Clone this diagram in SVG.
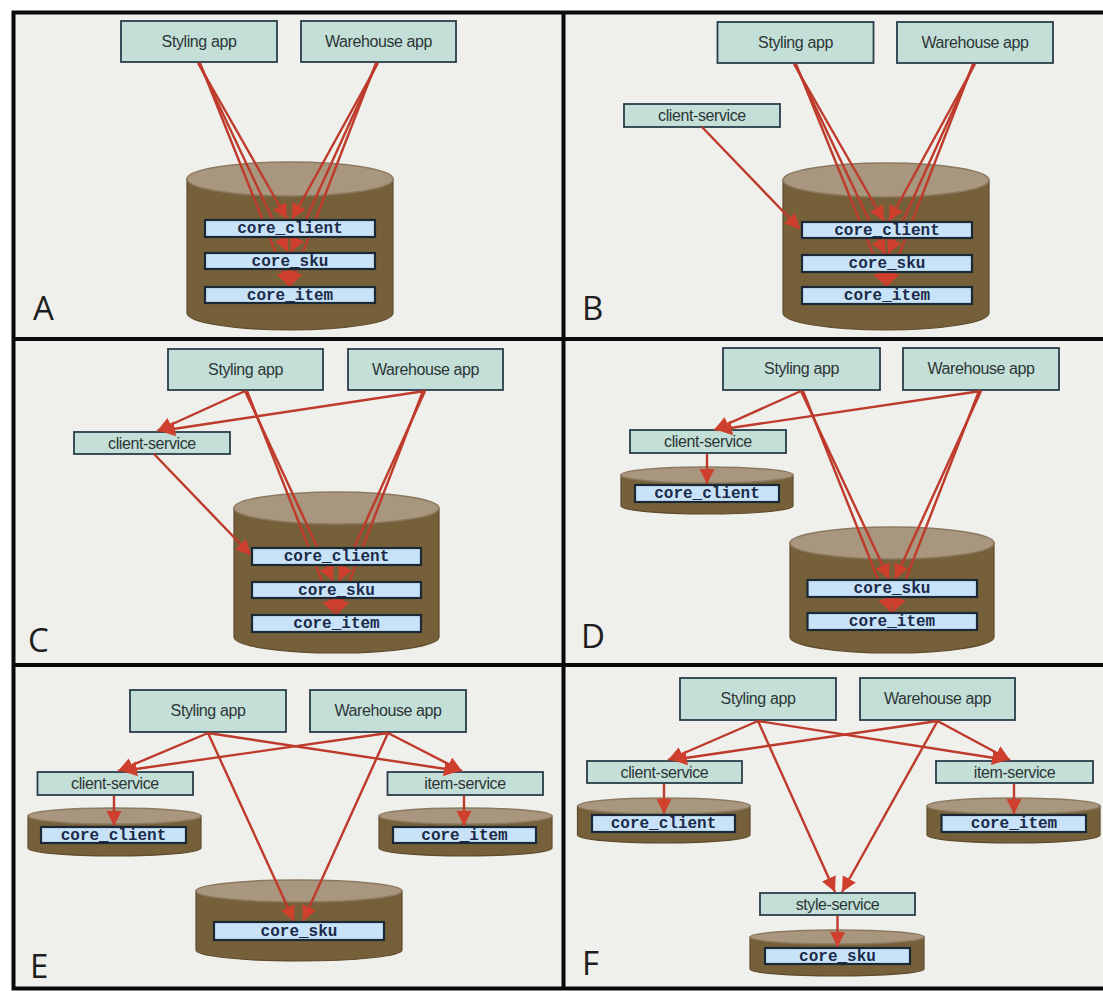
<svg xmlns="http://www.w3.org/2000/svg" width="1103" height="991" viewBox="0 0 1103 991">
<defs>
<style>
.app{fill:#c4dfd8;stroke:#2b3d4b;stroke-width:1.8}
.atx{font-family:"Liberation Sans",Arial,sans-serif;font-size:16px;fill:#2c3636;text-anchor:middle;letter-spacing:-0.4px}
.bar{fill:#c8e3f8;stroke:#1b2836;stroke-width:2.2}
.btx{font-family:"Liberation Mono","Courier New",monospace;font-size:16px;font-weight:bold;fill:#1b2a48;text-anchor:middle}
.body{fill:#76603a;stroke:#5e4a2c;stroke-width:1.2}
.top{fill:#a8967e;stroke:#8c7a60;stroke-width:1.5}
.lbl{font-family:"Open Sans","DejaVu Sans",sans-serif;font-size:33px;fill:#1e1e1e}
.frame{stroke:#0a0a0a;stroke-width:4;fill:none}
.c{stroke:#be3a2a;stroke-width:2.4;fill:none;marker-end:url(#ah)}
</style>
<marker id="ah" markerUnits="userSpaceOnUse" markerWidth="16" markerHeight="16" refX="15" refY="8" orient="auto">
<path d="M0,0.5 L15,8 L0,15.5 z" fill="#cf3f2d"/>
</marker>
</defs>
<rect x="0" y="0" width="1103" height="991" fill="#ffffff"/>
<rect x="13.5" y="12.5" width="1090" height="976" fill="#efefec"/>

<!-- Panel A -->
<g id="A-styling"><rect class="app" x="121" y="21" width="156" height="41"/><text class="atx" x="199" y="47">Styling app</text></g>
<g id="A-warehouse"><rect class="app" x="301" y="21" width="155" height="41"/><text class="atx" x="378.5" y="47">Warehouse app</text></g>
<g id="A-db"><path class="body" d="M187,179 V313 A103,17 0 0 0 393,313 V179 Z"/><ellipse class="top" cx="290" cy="179" rx="103" ry="17"/></g>
<!-- Panel B -->
<g id="B-styling"><rect class="app" x="717.5" y="22" width="156" height="41"/><text class="atx" x="795.5" y="48">Styling app</text></g>
<g id="B-warehouse"><rect class="app" x="897" y="22" width="156" height="41"/><text class="atx" x="975" y="48">Warehouse app</text></g>
<g id="B-client-service"><rect class="app" x="624" y="104" width="156" height="23"/><text class="atx" x="702" y="121">client-service</text></g>
<g id="B-db"><path class="body" d="M783,180 V313 A103,17 0 0 0 989,313 V180 Z"/><ellipse class="top" cx="886" cy="180" rx="103" ry="17"/></g>
<!-- Panel C -->
<g id="C-styling"><rect class="app" x="168" y="349" width="155" height="41"/><text class="atx" x="245.5" y="375">Styling app</text></g>
<g id="C-warehouse"><rect class="app" x="348" y="349" width="155" height="41"/><text class="atx" x="425.5" y="375">Warehouse app</text></g>
<g id="C-client-service"><rect class="app" x="74" y="432" width="156" height="22"/><text class="atx" x="152" y="448.5">client-service</text></g>
<g id="C-db"><path class="body" d="M234,508 V637 A102.5,16 0 0 0 439,637 V508 Z"/><ellipse class="top" cx="336.5" cy="508" rx="102.5" ry="16"/></g>
<!-- Panel D -->
<g id="D-styling"><rect class="app" x="723" y="348" width="157" height="42"/><text class="atx" x="801.5" y="374">Styling app</text></g>
<g id="D-warehouse"><rect class="app" x="903" y="348" width="156" height="42"/><text class="atx" x="981" y="374">Warehouse app</text></g>
<g id="D-client-service"><rect class="app" x="630" y="430" width="156" height="23"/><text class="atx" x="708" y="447">client-service</text></g>
<g id="D-db-client"><path class="body" d="M621,475 V506 A86,8 0 0 0 793,506 V475 Z"/><ellipse class="top" cx="707" cy="475" rx="86" ry="8"/></g>
<g id="D-db"><path class="body" d="M790,543 V637 A102,16 0 0 0 994,637 V543 Z"/><ellipse class="top" cx="892" cy="543" rx="102" ry="16"/></g>
<!-- Panel E -->
<g id="E-styling"><rect class="app" x="130" y="690" width="156" height="42"/><text class="atx" x="208" y="716">Styling app</text></g>
<g id="E-warehouse"><rect class="app" x="310" y="690" width="156" height="42"/><text class="atx" x="388" y="716">Warehouse app</text></g>
<g id="E-client-service"><rect class="app" x="37.5" y="772" width="155.5" height="23"/><text class="atx" x="115" y="789">client-service</text></g>
<g id="E-item-service"><rect class="app" x="387.5" y="772" width="155.5" height="23"/><text class="atx" x="465" y="789">item-service</text></g>
<g id="E-db-client"><path class="body" d="M28,816 V848 A86.5,8 0 0 0 201,848 V816 Z"/><ellipse class="top" cx="114.5" cy="816" rx="86.5" ry="8"/></g>
<g id="E-db-item"><path class="body" d="M379,816 V848 A86.5,8 0 0 0 552,848 V816 Z"/><ellipse class="top" cx="465.5" cy="816" rx="86.5" ry="8"/></g>
<g id="E-db-sku"><path class="body" d="M196,891 V950 A103,11 0 0 0 402,950 V891 Z"/><ellipse class="top" cx="299" cy="891" rx="103" ry="11"/></g>
<!-- Panel F -->
<g id="F-styling"><rect class="app" x="680" y="678" width="156" height="42"/><text class="atx" x="758" y="704">Styling app</text></g>
<g id="F-warehouse"><rect class="app" x="860" y="678" width="155" height="42"/><text class="atx" x="937.5" y="704">Warehouse app</text></g>
<g id="F-client-service"><rect class="app" x="587" y="761" width="155" height="22"/><text class="atx" x="664.5" y="777.5">client-service</text></g>
<g id="F-item-service"><rect class="app" x="936" y="761" width="157" height="22"/><text class="atx" x="1014.5" y="777.5">item-service</text></g>
<g id="F-style-service"><rect class="app" x="760" y="893" width="155" height="22"/><text class="atx" x="837.5" y="909.5">style-service</text></g>
<g id="F-db-client"><path class="body" d="M577.5,806 V835 A86,8 0 0 0 750,835 V806 Z"/><ellipse class="top" cx="664" cy="806" rx="86" ry="8"/></g>
<g id="F-db-item"><path class="body" d="M927,806 V835 A86.5,8 0 0 0 1100,835 V806 Z"/><ellipse class="top" cx="1013.5" cy="806" rx="86.5" ry="8"/></g>
<g id="F-db-sku"><path class="body" d="M750,937 V969 A87,7 0 0 0 924,969 V937 Z"/><ellipse class="top" cx="837" cy="937" rx="87" ry="7"/></g>

<g id="connectors">
<!-- A -->
<path class="c" d="M198,63 L287,219"/><path class="c" d="M199,63 L288,252"/><path class="c" d="M200,63 L289,286"/>
<path class="c" d="M378,63 L292,219"/><path class="c" d="M377,63 L291,252"/><path class="c" d="M376,63 L290,286"/>
<!-- B -->
<path class="c" d="M794,64 L884,221"/><path class="c" d="M795,64 L885,254"/><path class="c" d="M796,64 L886,286"/>
<path class="c" d="M975,64 L889,221"/><path class="c" d="M974,64 L888,254"/><path class="c" d="M973,64 L887,286"/>
<path class="c" d="M702,127 L800,229"/>
<!-- C -->
<path class="c" d="M245,391 L157,431"/><path class="c" d="M425,391 L160,431"/>
<path class="c" d="M245,391 L333,581"/><path class="c" d="M247,391 L335,614"/>
<path class="c" d="M425,391 L339,581"/><path class="c" d="M423,391 L337,614"/>
<path class="c" d="M154,454 L251,555"/>
<!-- D -->
<path class="c" d="M801,391 L714,430"/><path class="c" d="M981,391 L717,430"/>
<path class="c" d="M801,391 L889,579"/><path class="c" d="M803,391 L891,612"/>
<path class="c" d="M981,391 L895,579"/><path class="c" d="M979,391 L893,612"/>
<path class="c" d="M707,454 L707,484"/>
<!-- E -->
<path class="c" d="M208,733 L118,771"/><path class="c" d="M208,733 L459,771"/><path class="c" d="M208,733 L294,921"/>
<path class="c" d="M388,733 L122,771"/><path class="c" d="M388,733 L462,771"/><path class="c" d="M388,733 L303,921"/>
<path class="c" d="M114,796 L114,826"/><path class="c" d="M464,796 L464,826"/>
<!-- F -->
<path class="c" d="M758,721 L668,760"/><path class="c" d="M758,721 L1007,760"/><path class="c" d="M758,721 L835,892"/>
<path class="c" d="M937.5,721 L672,760"/><path class="c" d="M937.5,721 L1010,760"/><path class="c" d="M937.5,721 L842,892"/>
<path class="c" d="M664,784 L664,814"/><path class="c" d="M1014,784 L1014,814"/><path class="c" d="M837.5,916 L837.5,947"/>
</g>

<!-- table bars -->
<g id="A-core-client"><rect class="bar" x="205" y="220" width="170" height="17"/><text class="btx" x="290" y="233">core_client</text></g>
<g id="A-core-sku"><rect class="bar" x="205" y="253" width="170" height="16"/><text class="btx" x="290" y="266">core_sku</text></g>
<g id="A-core-item"><rect class="bar" x="205" y="287" width="170" height="16"/><text class="btx" x="290" y="300">core_item</text></g>
<g id="B-core-client"><rect class="bar" x="802" y="222" width="170" height="16"/><text class="btx" x="887" y="235">core_client</text></g>
<g id="B-core-sku"><rect class="bar" x="802" y="255" width="170" height="17"/><text class="btx" x="887" y="268">core_sku</text></g>
<g id="B-core-item"><rect class="bar" x="802" y="287" width="170" height="17"/><text class="btx" x="887" y="300">core_item</text></g>
<g id="C-core-client"><rect class="bar" x="252" y="548" width="169" height="17"/><text class="btx" x="336.5" y="561">core_client</text></g>
<g id="C-core-sku"><rect class="bar" x="252" y="582" width="169" height="16"/><text class="btx" x="336.5" y="595">core_sku</text></g>
<g id="C-core-item"><rect class="bar" x="252" y="615" width="169" height="17"/><text class="btx" x="336.5" y="628">core_item</text></g>
<g id="D-core-client"><rect class="bar" x="635" y="485" width="144" height="17"/><text class="btx" x="707" y="498">core_client</text></g>
<g id="D-core-sku"><rect class="bar" x="807.5" y="580" width="169.5" height="17"/><text class="btx" x="892" y="593">core_sku</text></g>
<g id="D-core-item"><rect class="bar" x="807.5" y="613" width="169.5" height="17"/><text class="btx" x="892" y="626">core_item</text></g>
<g id="E-core-client"><rect class="bar" x="41" y="827" width="145" height="16"/><text class="btx" x="113.5" y="840">core_client</text></g>
<g id="E-core-item"><rect class="bar" x="393" y="827" width="143" height="16"/><text class="btx" x="464.5" y="840">core_item</text></g>
<g id="E-core-sku"><rect class="bar" x="214" y="922" width="170" height="18"/><text class="btx" x="299" y="936">core_sku</text></g>
<g id="F-core-client"><rect class="bar" x="592" y="815" width="143" height="17"/><text class="btx" x="663.5" y="828">core_client</text></g>
<g id="F-core-item"><rect class="bar" x="941.5" y="815" width="144.5" height="17"/><text class="btx" x="1014" y="828">core_item</text></g>
<g id="F-core-sku"><rect class="bar" x="765" y="948" width="145" height="16"/><text class="btx" x="837.5" y="961">core_sku</text></g>

<g id="labels">
<text class="lbl" x="33" y="320">A</text>
<text class="lbl" x="582" y="320">B</text>
<text class="lbl" x="28" y="652">C</text>
<text class="lbl" x="581" y="648">D</text>
<text class="lbl" x="30" y="978">E</text>
<text class="lbl" x="582" y="975">F</text>
</g>

<g id="frame">
<path class="frame" d="M11.5,12.5 H1103 M13.5,10.5 V990 M563.5,12.5 V988.5 M13.5,339 H1103 M13.5,665 H1103 M11.5,988.5 H1103"/>
</g>
</svg>
